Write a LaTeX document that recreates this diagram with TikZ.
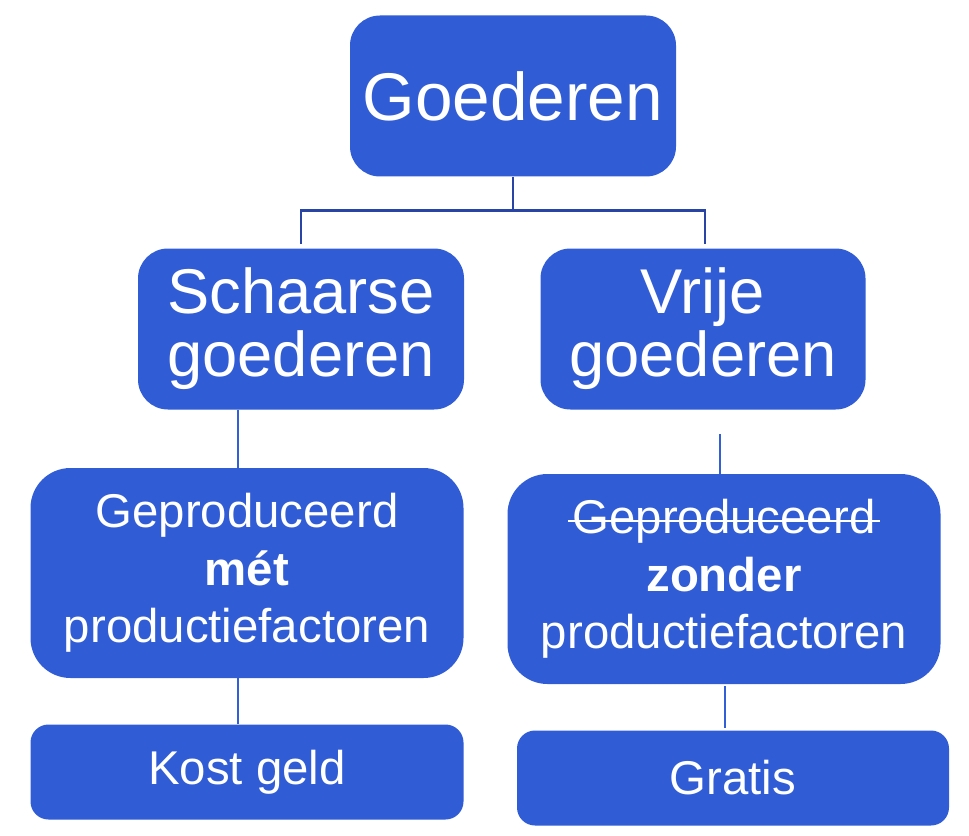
\documentclass[tikz,border=0pt]{standalone}
\usepackage{fontspec}
\setmainfont{Liberation Sans}
\usepackage{xcolor}
\usepackage{tikz}
\usetikzlibrary{calc}
\definecolor{boxblue}{RGB}{48,92,214}
\definecolor{treeblue}{RGB}{40,68,165}
\definecolor{linkblue}{RGB}{50,95,215}
\newsavebox{\strikebox}
\newcommand{\strikeword}[1]{\sbox{\strikebox}{#1}\rlap{\hspace{-0.1em}\rule[0.25em]{\dimexpr\wd\strikebox+0.2em\relax}{1.3pt}}\usebox{\strikebox}}

\begin{document}
\begin{tikzpicture}[
    topbox/.style={rectangle, fill=boxblue, text=white, minimum width=8.15cm, minimum height=4.025cm, align=center, rounded corners=0.75cm, inner sep=0pt, font=\fontsize{45pt}{45pt}\selectfont},
    midbox/.style={rectangle, fill=boxblue, text=white, minimum width=10.825cm, minimum height=5.25cm, align=center, rounded corners=1cm, inner sep=0pt, font=\fontsize{33.7pt}{41pt}\selectfont},
    lowbox/.style={rectangle, fill=boxblue, text=white, minimum width=10.825cm, minimum height=2.375cm, align=center, rounded corners=0.45cm, inner sep=0pt, font=\fontsize{33.7pt}{41pt}\selectfont},
    tree/.style={draw=treeblue, line width=2pt},
    link/.style={draw=linkblue, line width=1pt}
]
\useasboundingbox (0,0) rectangle (24.225,-20.875);

% Top
\node[topbox, font=\fontsize{48pt}{56pt}\selectfont] (goed) at (12.825, -2.4) {Goederen};

% Kinds of goods
\node[topbox] (schaars) at (7.525, -8.225) {Schaarse\\goederen};
\node[topbox, minimum width=8.125cm] (vrij) at (17.575, -8.225) {Vrije\\goederen};

% Production
\node[midbox] (met) at (6.175, -14.325) {Geproduceerd\\\textbf{mét}\\productiefactoren};
\node[midbox] (zonder) at (18.1, -14.475) {\strikeword{Geproduceerd}\\\textbf{zonder}\\productiefactoren};

% Price
\node[lowbox] (kost) at (6.175, -19.3) {Kost geld};
\node[lowbox, minimum width=10.8cm] (gratis) at (18.325, -19.45) {Gratis};

\coordinate (lineL) at (5.95, 0);
\coordinate (lineR) at (18.0, 0);
\coordinate (lineRR) at (18.125, 0);

% Connections: top tree
\draw[tree, shorten >=0.1cm] (goed.south) -- ++(0,-0.85) -| (schaars.north);
\draw[tree, shorten >=0.1cm] (goed.south) -- ++(0,-0.85) -| ([xshift=0.05cm]vrij.north);

% Connections: lower
\draw[link] (schaars.south -| lineL) -- (met.north -| lineL);
\draw[link] ([yshift=-0.6cm]vrij.south -| lineR) -- (zonder.north -| lineR);
\draw[link] (met.south -| lineL) -- (kost.north -| lineL);
\draw[link] ([yshift=-0.05cm]zonder.south -| lineRR) -- ([yshift=0.05cm]gratis.north -| lineRR);

\end{tikzpicture}
\end{document}
